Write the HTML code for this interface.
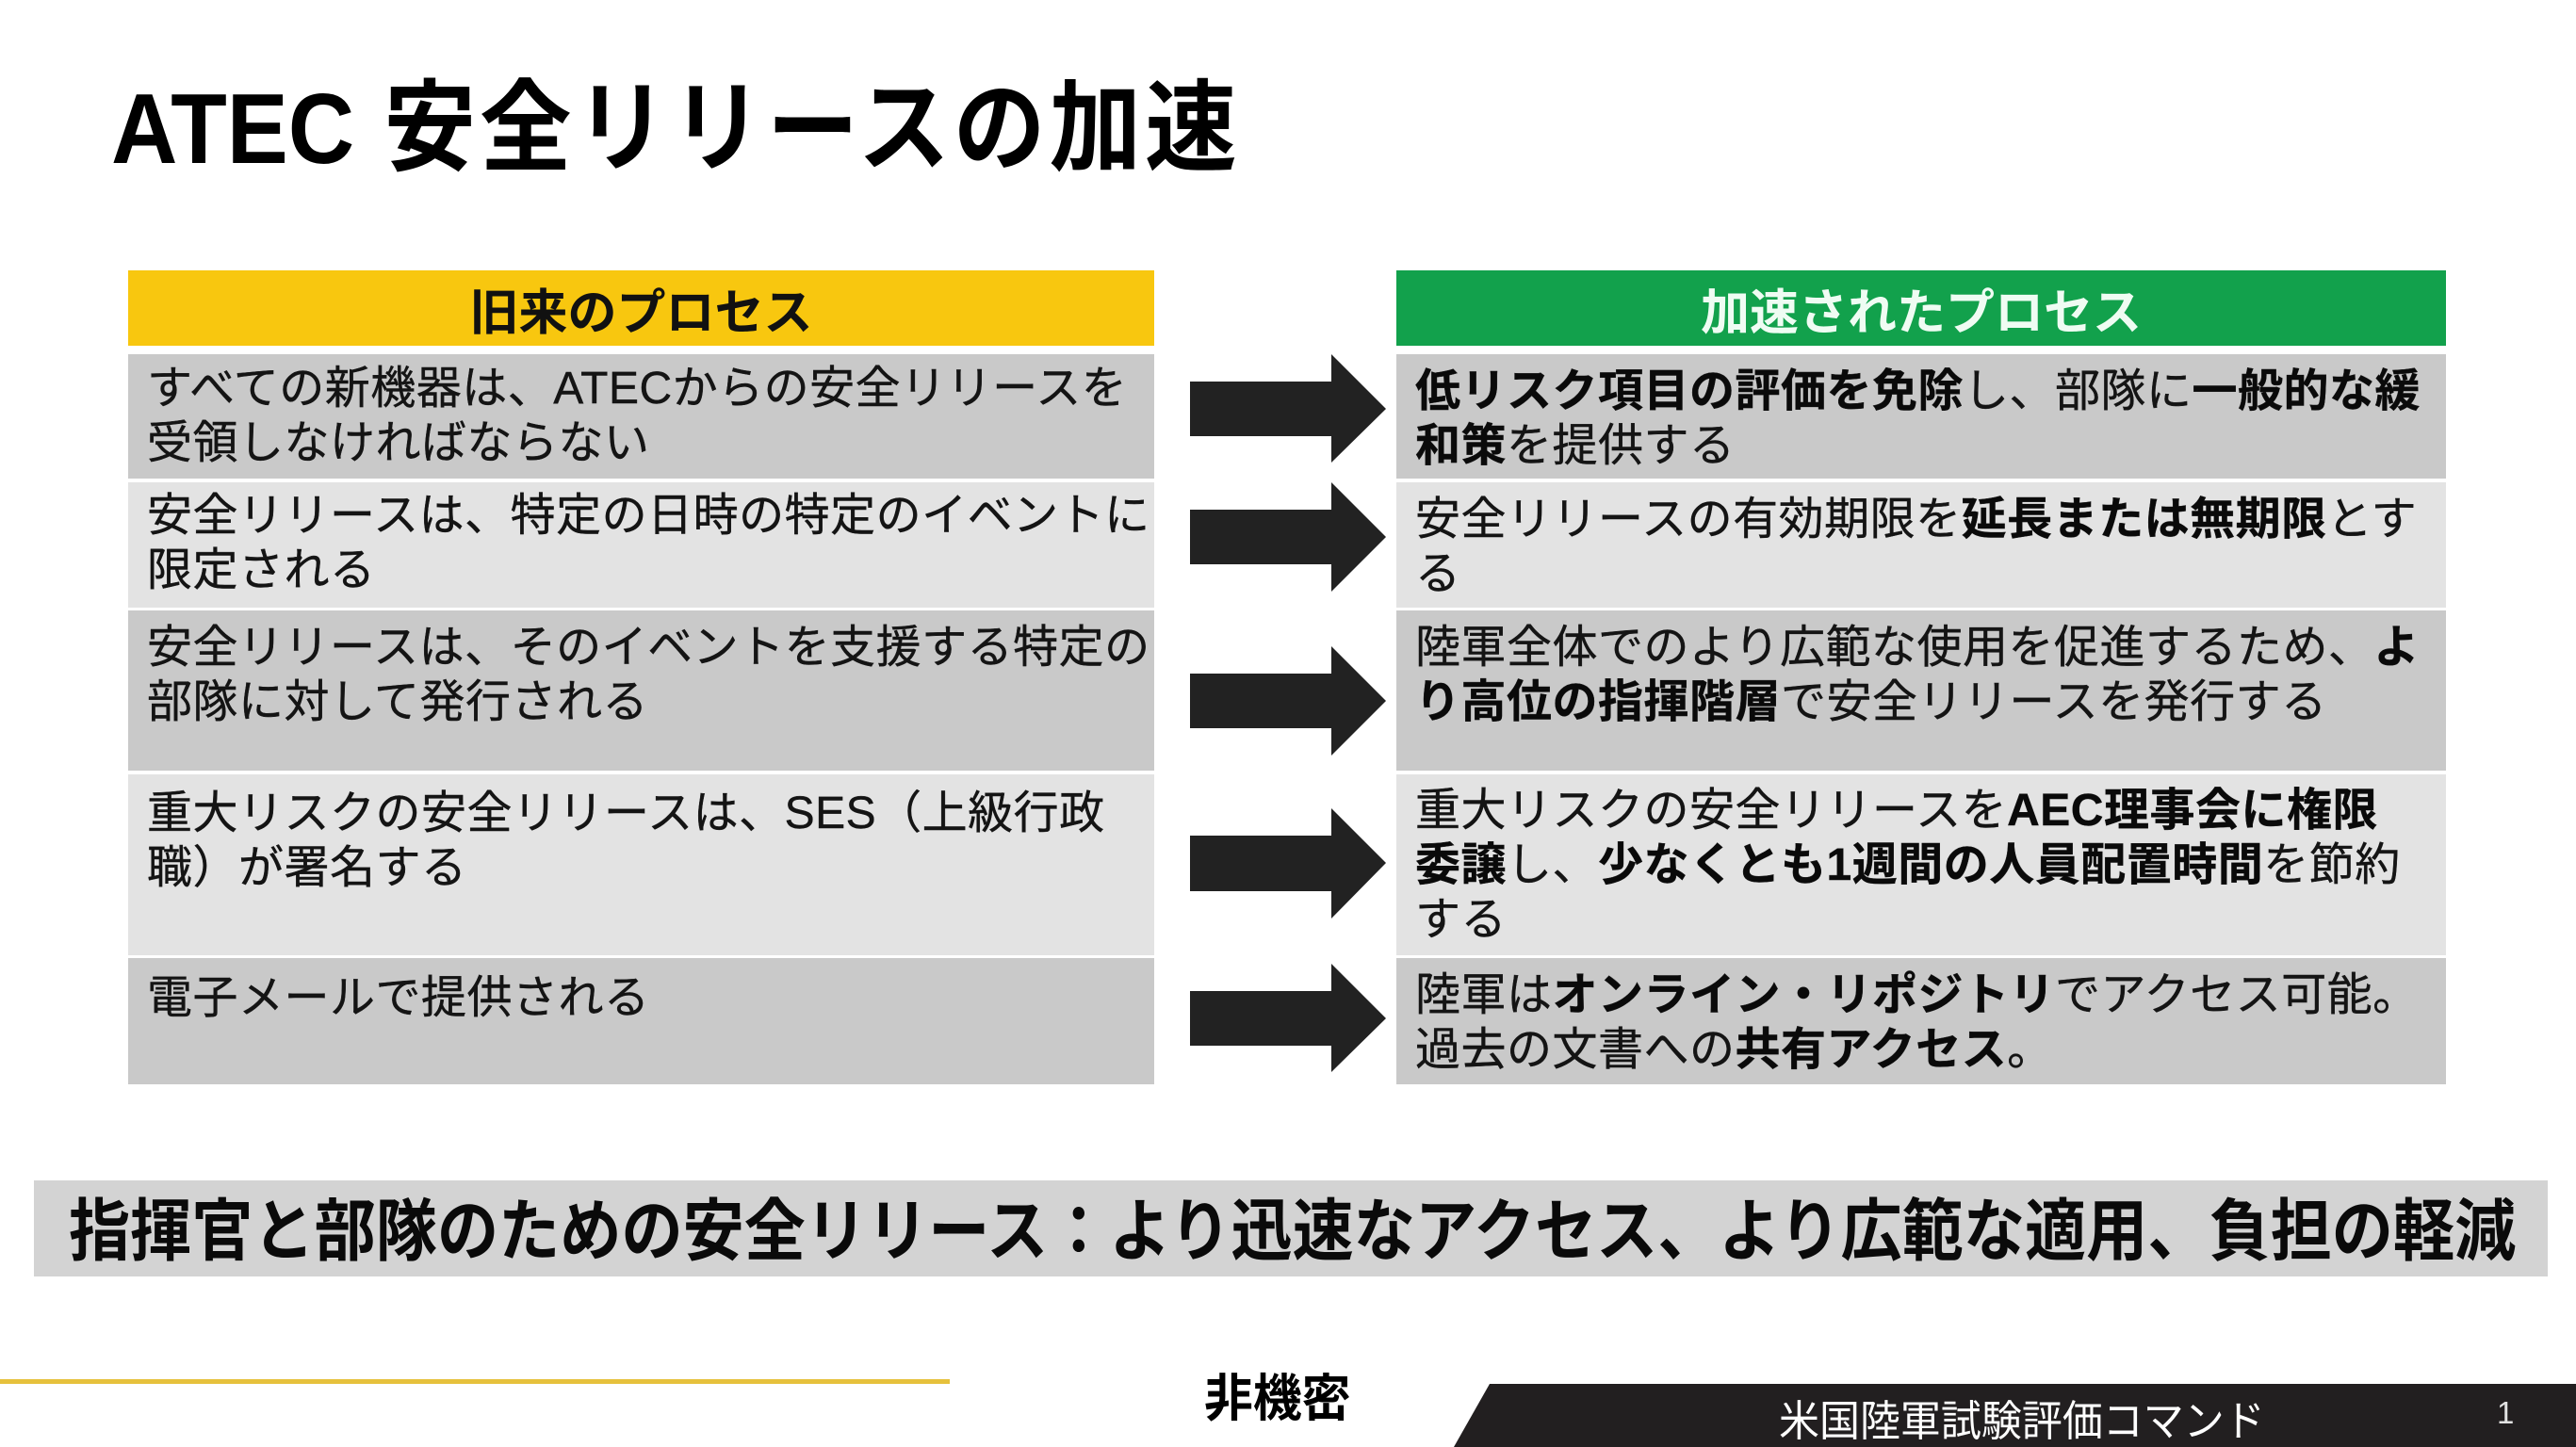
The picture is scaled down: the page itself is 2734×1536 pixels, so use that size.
<!DOCTYPE html>
<html lang="ja">
<head>
<meta charset="utf-8">
<style>
  html, body { margin:0; padding:0; }
  body { width:2734px; height:1536px; position:relative; overflow:hidden; background:#ffffff;
         font-family:"Liberation Sans","Noto Sans CJK JP",sans-serif; color:#111; }
  .abs { position:absolute; white-space:nowrap; }
  .title { left:118px; top:84px; font-size:106px; line-height:106px; font-weight:700; color:#000;
           transform:scaleX(0.92); transform-origin:0 0; }
  .title .lat { letter-spacing:0px; }
  .title .cjk { margin-left:34px; letter-spacing:4.4px; }
  .hdr { position:absolute; top:287px; height:80px; display:flex; align-items:center; justify-content:center;
         font-size:52px; font-weight:700; white-space:nowrap; }
  .row { position:absolute; }
  .g { background:#c9c9c9; }
  .l { background:#e3e3e3; }
  .txt { position:absolute; white-space:nowrap; font-size:48px; line-height:58px; letter-spacing:0.5px; color:#141414;
         -webkit-text-stroke:0.4px #141414; }
  .txt b { font-weight:700; color:#0a0a0a; }
  .banner { position:absolute; left:36px; top:1253px; width:2668px; height:102px; background:#d3d3d3; }
  .bantxt { left:73px; top:1272px; font-size:72px; line-height:72px; font-weight:700; color:#0a0a0a;
            transform:scaleX(0.905); transform-origin:0 0; }
</style>
</head>
<body>

<!-- Title -->
<div class="abs title"><span class="lat">ATEC</span><span class="cjk">安全リリースの加速</span></div>

<!-- Headers -->
<div class="hdr" style="left:136px; width:1089px; background:#f8c70f; color:#111;">旧来のプロセス</div>
<div class="hdr" style="left:1482px; width:1114px; background:#12a14c; color:#effcf3;">加速されたプロセス</div>

<!-- Left rows -->
<div class="row g" style="left:136px; top:376px; width:1089px; height:132px;"></div>
<div class="row l" style="left:136px; top:512px; width:1089px; height:133px;"></div>
<div class="row g" style="left:136px; top:648px; width:1089px; height:170px;"></div>
<div class="row l" style="left:136px; top:822px; width:1089px; height:192px;"></div>
<div class="row g" style="left:136px; top:1017px; width:1089px; height:134px;"></div>

<!-- Right rows -->
<div class="row g" style="left:1482px; top:376px; width:1114px; height:132px;"></div>
<div class="row l" style="left:1482px; top:512px; width:1114px; height:133px;"></div>
<div class="row g" style="left:1482px; top:648px; width:1114px; height:170px;"></div>
<div class="row l" style="left:1482px; top:822px; width:1114px; height:192px;"></div>
<div class="row g" style="left:1482px; top:1017px; width:1114px; height:134px;"></div>

<!-- Left texts -->
<div class="txt" style="left:156px; top:384px;">すべての新機器は、ATECからの安全リリースを<br>受領しなければならない</div>
<div class="txt" style="left:156px; top:519px;">安全リリースは、特定の日時の特定のイベントに<br>限定される</div>
<div class="txt" style="left:156px; top:659px;">安全リリースは、そのイベントを支援する特定の<br>部隊に対して発行される</div>
<div class="txt" style="left:156px; top:835px;">重大リスクの安全リリースは、SES（上級行政<br>職）が署名する</div>
<div class="txt" style="left:156px; top:1031px;">電子メールで提供される</div>

<!-- Right texts -->
<div class="txt" style="left:1502px; top:387px;"><b>低リスク項目の評価を免除</b>し、部隊に<b>一般的な緩<br>和策</b>を提供する</div>
<div class="txt" style="left:1502px; top:523px;">安全リリースの有効期限を<b>延長または無期限</b>とす<br>る</div>
<div class="txt" style="left:1502px; top:659px;">陸軍全体でのより広範な使用を促進するため、<b>よ<br>り高位の指揮階層</b>で安全リリースを発行する</div>
<div class="txt" style="left:1502px; top:832px;">重大リスクの安全リリースを<b>AEC理事会に権限<br>委譲</b>し、<b>少なくとも1週間の人員配置時間</b>を節約<br>する</div>
<div class="txt" style="left:1502px; top:1028px;">陸軍は<b>オンライン・リポジトリ</b>でアクセス可能。<br>過去の文書への<b>共有アクセス</b>。</div>

<!-- Arrows -->
<svg class="abs" style="left:0; top:0;" width="2734" height="1536" viewBox="0 0 2734 1536">
  <g fill="#222222">
    <polygon points="1263,405 1413,405 1413,376 1471,434 1413,491 1413,463 1263,463"/>
    <polygon points="1263,541 1413,541 1413,512 1471,570 1413,628 1413,599 1263,599"/>
    <polygon points="1263,715 1413,715 1413,686 1471,744 1413,802 1413,773 1263,773"/>
    <polygon points="1263,887 1413,887 1413,858 1471,916 1413,975 1413,946 1263,946"/>
    <polygon points="1263,1052 1413,1052 1413,1023 1471,1081 1413,1138 1413,1110 1263,1110"/>
  </g>
  <!-- footer yellow line -->
  <rect x="0" y="1464" width="1008" height="5" fill="#e6c13c"/>
  <!-- footer dark bar -->
  <polygon points="1581,1469 2734,1469 2734,1536 1543,1536" fill="#221f20"/>
</svg>

<!-- Bottom banner -->
<div class="banner"></div>
<div class="abs bantxt">指揮官と部隊のための安全リリース：より迅速なアクセス、より広範な適用、負担の軽減</div>

<!-- Footer -->
<div class="abs" style="left:1278px; top:1458px; font-size:54px; line-height:54px; font-weight:700; color:#000; transform:scaleX(0.96); transform-origin:0 0;">非機密</div>
<div class="abs" style="left:1888px; top:1486px; font-size:45px; line-height:45px; color:#ffffff; transform:scaleX(0.955); transform-origin:0 0;">米国陸軍試験評価コマンド</div>
<div class="abs" style="left:2650px; top:1483px; font-size:33px; line-height:33px; color:#e2e2e2;">1</div>

</body>
</html>
